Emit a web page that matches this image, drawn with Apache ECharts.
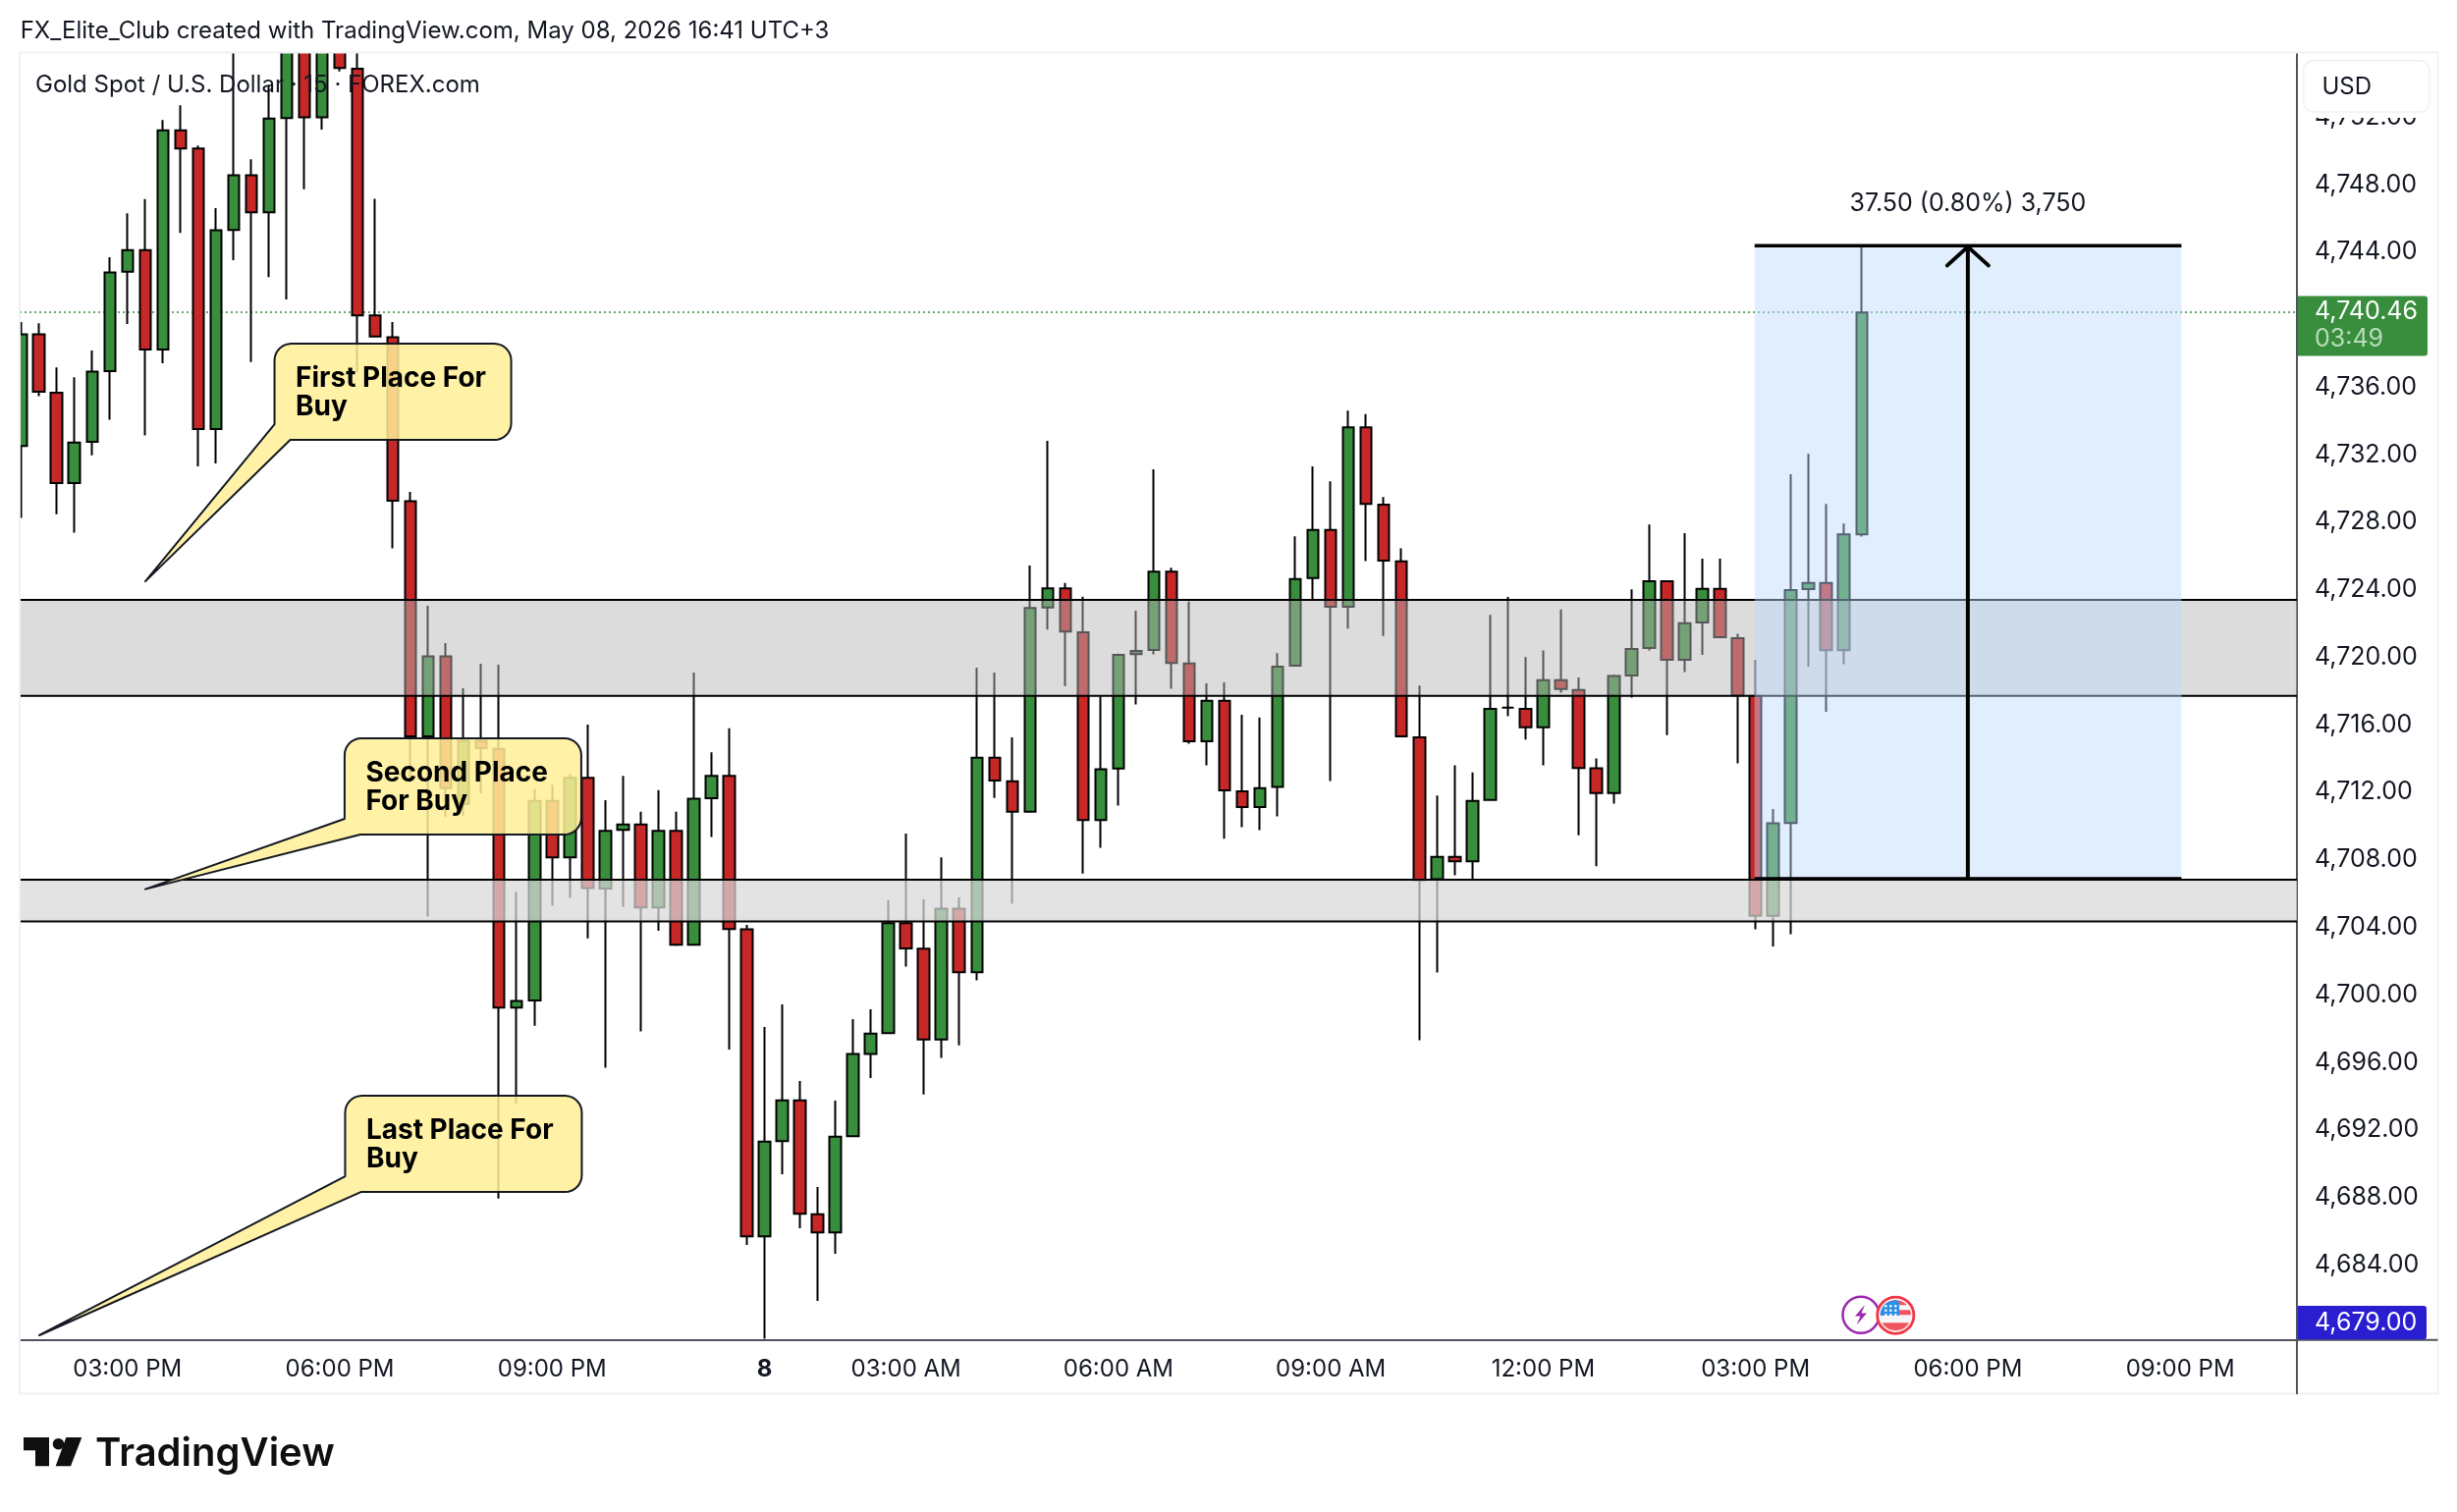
<!DOCTYPE html>
<html>
<head>
<meta charset="utf-8">
<style>html,body{margin:0;padding:0;background:#fff}#c{width:2502px;height:1540px}</style>
<script src="https://cdn.jsdelivr.net/npm/echarts@6/dist/echarts.min.js"></script>
</head>
<body>
<div id="c"></div>
<script>
// ---- data (bar number 0 = 03:00 PM, 15-minute bars) ----
const firstBar = -6;
const open = [
4732.52,4739.13,4735.68,4730.32,4732.77,4736.96,
4742.84,4744.13,4738.23,4751.22,4750.14,4733.52,
4745.32,4748.56,4746.36,4751.95,4757,4752.0,
4757,4754.87,4740.25,4738.96,4729.24,4715.32,
4720.05,4711.3,4715.05,4714.57,4699.24,4699.67,
4711.49,4708.15,4712.86,4706.3,4709.78,4710.1,
4705.18,4709.72,4702.97,4711.65,4712.98,4703.88,
4685.69,4691.33,4693.75,4687.0,4685.92,4691.62,
4696.49,4697.73,4704.25,4702.73,4697.36,4705.1,
4701.34,4714.05,4712.66,4710.85,4722.95,4724.09,
4721.48,4710.36,4713.41,4720.19,4720.43,4725.08,
4719.63,4715.02,4717.42,4712.05,4711.12,4712.32,
4719.5,4724.69,4727.55,4723.0,4733.63,4729.04,
4725.68,4715.26,4706.85,4708.18,4707.91,4711.55,
4717.02,4716.94,4715.85,4718.65,4718.06,4713.42,
4711.95,4718.92,4720.55,4724.5,4719.85,4722.07,
4724.05,4721.13,4717.72,4704.68,4710.18,4724.04,
4724.4,4720.42,4727.28];
const close = [
4739.13,4735.74,4730.32,4732.73,4736.92,4742.80,
4744.13,4738.23,4751.22,4750.14,4733.52,4745.30,
4748.56,4746.36,4751.92,4757,4752.0,4757,
4754.92,4740.25,4739.0,4729.28,4715.32,4720.05,
4712.24,4715.05,4714.61,4699.24,4699.63,4711.49,
4708.15,4712.86,4706.32,4709.72,4710.1,4705.18,
4709.72,4702.97,4711.62,4712.98,4703.9,4685.69,
4691.31,4693.75,4687.03,4685.92,4691.6,4696.49,
4697.71,4704.25,4702.75,4697.36,4705.1,4701.34,
4714.05,4712.69,4710.85,4722.92,4724.09,4721.53,
4710.36,4713.36,4720.14,4720.38,4725.08,4719.66,
4715.02,4717.42,4712.11,4711.12,4712.24,4719.45,
4724.63,4727.55,4723.0,4733.63,4729.09,4725.73,
4715.31,4706.79,4708.18,4707.91,4711.49,4716.94,
4717.02,4715.85,4718.65,4718.12,4713.44,4711.95,
4718.89,4720.49,4724.5,4719.85,4722.02,4724.05,
4721.19,4717.74,4704.68,4710.16,4723.98,4724.4,
4720.42,4727.28,4740.43];
const high = [
4739.87,4739.79,4737.17,4736.59,4738.17,4743.70,
4746.31,4747.15,4751.84,4752.71,4750.32,4746.61,
4758,4749.51,4753.92,4759,4759,4759,
4759,4758,4747.17,4739.87,4729.8,4723.05,
4720.84,4718.16,4719.62,4719.56,4706.11,4712.2,
4712.45,4713.07,4716.02,4711.54,4712.98,4710.85,
4712.13,4710.85,4719.1,4714.37,4715.79,4704.15,
4698.1,4699.43,4694.9,4688.61,4693.73,4698.56,
4699.14,4705.61,4709.56,4705.66,4708.15,4705.77,
4719.39,4719.1,4715.25,4725.43,4732.83,4724.41,
4723.59,4717.68,4720.22,4722.76,4731.14,4725.3,
4723.3,4718.46,4718.52,4716.59,4716.43,4720.25,
4727.17,4731.31,4730.43,4734.62,4734.41,4729.5,
4726.45,4718.33,4711.81,4713.6,4713.18,4722.52,
4723.57,4720.01,4720.41,4722.84,4718.81,4714.0,
4718.97,4724.02,4727.87,4724.5,4727.36,4725.84,
4725.84,4721.4,4719.85,4711.01,4730.84,4732.06,
4729.09,4727.93,4744.38];
const low = [
4728.26,4735.47,4728.47,4727.39,4731.96,4734.08,
4739.75,4733.14,4737.42,4745.15,4731.31,4731.48,
4743.53,4737.5,4742.53,4741.2,4747.73,4751.26,
4754.71,4736.88,4739.0,4726.45,4712.6,4704.64,
4710.54,4710.62,4711.93,4687.93,4693.54,4698.17,
4705.28,4705.74,4703.35,4695.68,4705.21,4697.84,
4703.79,4702.89,4702.97,4709.35,4696.76,4685.18,
4679.62,4689.37,4686.17,4681.87,4684.66,4691.62,
4695.07,4697.73,4701.68,4694.1,4696.26,4697.01,
4700.86,4711.67,4705.4,4710.85,4721.64,4718.3,
4707.19,4708.71,4711.22,4717.2,4720.17,4718.14,
4714.88,4713.6,4709.25,4709.94,4709.76,4710.58,
4719.5,4723.4,4712.67,4721.7,4725.7,4721.27,
4715.31,4697.31,4701.32,4707.09,4706.85,4711.55,
4716.51,4715.13,4713.6,4717.9,4709.46,4707.62,
4711.33,4717.61,4720.41,4715.39,4719.13,4720.15,
4721.19,4713.71,4703.88,4702.87,4703.59,4719.44,
4716.77,4719.59,4727.16];

const xTickBars = [0,12,24,36,44,56,68,80,92,104,116];
const xTickLabels = ['03:00 PM','06:00 PM','09:00 PM','8','03:00 AM','06:00 AM','09:00 AM','12:00 PM','03:00 PM','06:00 PM','09:00 PM'];
const yTicks = [4684,4688,4692,4696,4700,4704,4708,4712,4716,4720,4724,4728,4732,4736,4740,4744,4748,4752];

const zoneTop = [4723.4, 4706.82];
const zoneBottom = [4717.72, 4704.35];
const lastPrice = 4740.46;
const measureBars = [91.95, 116.07];
const measurePrices = [4706.88, 4744.38];
const measureArrowBar = 104;
const measureLabel = '37.50 (0.80%) 3,750';

const calloutText = [['First Place For','Buy'],['Second Place','For Buy'],['Last Place For','Buy']];
const calloutTipBar = [1.01, 1.01, -4.98];
const calloutTipPrice = [4724.5, 4706.26, 4679.83];
const calloutBoxBar = [8.31, 12.27, 12.30];
const calloutBoxPrice = [4738.58, 4715.2, 4694.02];

// ---- frame geometry ----
const plot = {l:20, r:2339, t:54, b:1364.7};
const barPx = 18.02, pricePx = 17.19;
const bar0X = 129.8, y4744 = 256.9;
const xMin = firstBar + (plot.l - (bar0X + firstBar*barPx))/barPx;
const xMax = (plot.r - bar0X)/barPx;
const yMax = 4744 + (y4744 - plot.t)/pricePx;
const yMin = 4744 - (plot.b - y4744)/pricePx;

const FONT = 'Inter, "Noto Sans", sans-serif';
const INK = '#131722';
const AXIS = '#50535e';
const GREEN = '#388e3c', RED = '#c62828';

const candleData = open.map((o,k)=>[firstBar+k, o, close[k], low[k], high[k]]);

function roundedCallout(tip, x0, y0, w, h, r){
  const pts = [tip, [x0, y0+h-16]];
  const arc = (cx,cy,a0)=>{for(let s=0;s<=8;s++){const a=a0+s/8*Math.PI/2;pts.push([cx+r*Math.cos(a),cy+r*Math.sin(a)]);}};
  arc(x0+r,y0+r,Math.PI);
  arc(x0+w-r,y0+r,-Math.PI/2);
  arc(x0+w-r,y0+h-r,0);
  pts.push([x0+16,y0+h]);
  return pts;
}

// US flag clipped to a circle
function discBand(cx,cy,r,x0,x1,y0,y1,fill,z){
  const L=[],R=[];
  for(let s=0;s<=8;s++){
    const y=y0+(y1-y0)*s/8;
    const half=Math.sqrt(Math.max(0,r*r-y*y));
    L.push([cx+Math.max(x0,-half),cy+y]);
    R.push([cx+Math.min(x1,half),cy+y]);
  }
  return {type:'polygon',z,silent:true,shape:{points:L.concat(R.reverse())},style:{fill}};
}
const flagX=1930.3, flagY=1339.7, flagR=15.6;
const flagStars=[];
[-9.5,-5,-0.5].forEach(sy=>[-10,-5,0].forEach(sx=>flagStars.push({type:'circle',z:62,silent:true,shape:{cx:flagX+sx,cy:flagY+sy,r:1.3},style:{fill:'#fff'}})));

function ptext(text,x,y,opt){
  return {type:'text',z:70,silent:true,x,y,style:Object.assign({text,fontFamily:FONT,fontSize:24,fill:INK,textVerticalAlign:'middle',verticalAlign:'middle'},opt||{})};
}

const option = {
  animation:false,
  backgroundColor:'#fff',
  grid:{left:plot.l,top:plot.t,width:plot.r-plot.l,height:plot.b-plot.t,containLabel:false},
  xAxis:{type:'value',min:xMin,max:xMax,
    axisLine:{show:true,onZero:false,lineStyle:{color:AXIS,width:2}},axisTick:{show:false},splitLine:{show:false},
    axisLabel:{customValues:xTickBars,margin:18,fontFamily:FONT,fontSize:24,color:INK,hideOverlap:false,showMinLabel:true,showMaxLabel:true,
      formatter:v=>{const s=xTickLabels[xTickBars.indexOf(v)];return s==='8'?'{b|8}':s;},
      rich:{b:{fontFamily:FONT,fontSize:24,fontWeight:700,color:INK}}}},
  yAxis:{type:'value',position:'right',min:yMin,max:yMax,scale:true,
    axisLine:{show:true,onZero:false,lineStyle:{color:AXIS,width:2}},axisTick:{show:false},splitLine:{show:false},
    axisLabel:{customValues:yTicks,margin:18,fontFamily:FONT,fontSize:25,color:INK,align:'left',hideOverlap:false,padding:[2,0,0,0],
      formatter:v=>v.toLocaleString('en-US',{minimumFractionDigits:2,maximumFractionDigits:2})}},
  series:[
    {type:'candlestick',name:'XAUUSD',z:2,barWidth:12,clip:true,silent:true,data:candleData,
      itemStyle:{color:GREEN,color0:RED,borderColor:'#000',borderColor0:'#000',borderColorDoji:'#000',borderWidth:2},
      markLine:{silent:true,symbol:'none',label:{show:false},animation:false,z:2,
        lineStyle:{color:GREEN,width:1.5,type:[2,3]},data:[{yAxis:lastPrice}]}},
    {type:'custom',name:'zones',z:3,silent:true,clip:true,data:zoneTop.map((t,k)=>[k,t]),encode:{x:0,y:1},
      renderItem:(p,api)=>{
        const k=p.dataIndex;
        const a=api.coord([xMin,zoneTop[k]]), b=api.coord([xMax,zoneBottom[k]]);
        const fill=k===0?'rgba(182,182,182,0.48)':'rgba(216,216,216,0.73)';
        return {type:'group',children:[
          {type:'rect',shape:{x:a[0],y:a[1],width:b[0]-a[0],height:b[1]-a[1]},style:{fill}},
          {type:'line',shape:{x1:a[0],y1:a[1],x2:b[0],y2:a[1]},style:{stroke:'#000',lineWidth:2}},
          {type:'line',shape:{x1:a[0],y1:b[1],x2:b[0],y2:b[1]},style:{stroke:'#000',lineWidth:2}}
        ]};
      }},
    {type:'custom',name:'measure',z:4,silent:true,clip:false,data:[[measureArrowBar,measurePrices[1]]],encode:{x:0,y:1},
      renderItem:(p,api)=>{
        const a=api.coord([measureBars[0],measurePrices[1]]), b=api.coord([measureBars[1],measurePrices[0]]);
        const ax=api.coord([measureArrowBar,measurePrices[1]])[0];
        return {type:'group',children:[
          {type:'rect',shape:{x:a[0],y:a[1],width:b[0]-a[0],height:b[1]-a[1]},style:{fill:'rgba(188,218,251,0.45)'}},
          {type:'line',shape:{x1:a[0],y1:a[1],x2:b[0],y2:a[1]},style:{stroke:'#000',lineWidth:3.5}},
          {type:'line',shape:{x1:a[0],y1:b[1],x2:b[0],y2:b[1]},style:{stroke:'#000',lineWidth:3.5}},
          {type:'line',shape:{x1:ax,y1:a[1],x2:ax,y2:b[1]},style:{stroke:'#000',lineWidth:4}},
          {type:'polyline',shape:{points:[[ax-21,a[1]+20],[ax,a[1]+1],[ax+21,a[1]+20]]},style:{stroke:'#000',fill:'none',lineWidth:4,lineCap:'round'}},
          {type:'text',style:{x:ax,y:a[1]-43,text:measureLabel,fontFamily:FONT,fontSize:25,fill:INK,textAlign:'center',textVerticalAlign:'middle',verticalAlign:'middle',align:'center'}}
        ]};
      }},
    {type:'custom',name:'callouts',z:5,silent:true,clip:false,data:calloutTipBar.map((b,k)=>[b,calloutTipPrice[k]]),encode:{x:0,y:1},
      renderItem:(p,api)=>{
        const k=p.dataIndex;
        const tip=api.coord([calloutTipBar[k],calloutTipPrice[k]]);
        const tl=api.coord([calloutBoxBar[k],calloutBoxPrice[k]]);
        const kids=[{type:'polygon',shape:{points:roundedCallout(tip,tl[0],tl[1],241,98,17)},
          style:{fill:'rgba(255,240,152,0.85)',stroke:'#131722',lineWidth:2,lineJoin:'round'}}];
        calloutText[k].forEach((t,j)=>kids.push({type:'text',style:{x:tl[0]+21.5,y:tl[1]+36+j*28.5,text:t,fontFamily:FONT,fontWeight:700,fontSize:28,fill:'#000',textVerticalAlign:'middle',verticalAlign:'middle'}}));
        return {type:'group',children:kids};
      }}
  ],
  graphic:{elements:[
    // white margins outside the plot hide the parts of candles that leave it
    {type:'rect',z:30,silent:true,shape:{x:0,y:0,width:2340,height:53},style:{fill:'#fff'}},
    {type:'rect',z:30,silent:true,shape:{x:0,y:0,width:19.5,height:1420},style:{fill:'#fff'}},
    // frame
    {type:'rect',z:31,silent:true,shape:{x:20,y:53.5,width:2462.5,height:1366},style:{fill:'none',stroke:'#f1f1f3',lineWidth:2}},
    {type:'line',z:60,silent:true,shape:{x1:plot.r,y1:plot.b,x2:plot.r,y2:1420},style:{stroke:AXIS,lineWidth:2}},
    {type:'line',z:60,silent:true,shape:{x1:plot.r,y1:plot.b,x2:2482.5,y2:plot.b},style:{stroke:AXIS,lineWidth:2}},
    // header and legend
    ptext('FX_Elite_Club created with TradingView.com, May 08, 2026 16:41 UTC+3',20.7,32),
    ptext('Gold Spot / U.S. Dollar · 15 · FOREX.com',36,86.5),
    // USD button masks the top tick label
    {type:'rect',z:59,silent:true,shape:{x:2341,y:55,width:139,height:65},style:{fill:'#fff'}},
    {type:'rect',z:60,silent:true,shape:{x:2345.7,y:61.7,width:128.3,height:52.3,r:10},style:{fill:'#fff',stroke:'#f1f1f3',lineWidth:1.5}},
    ptext('USD',2364.5,88.5),
    // last price tag
    {type:'rect',z:60,silent:true,shape:{x:2340,y:301.4,width:132,height:61.2,r:[0,3,3,0]},style:{fill:GREEN}},
    ptext('4,740.46',2357,317.5,{fill:'#fff',fontSize:25}),
    ptext('03:49',2357,345,{fill:'#b9dcbb',fontSize:25}),
    // crosshair price tag
    {type:'rect',z:60,silent:true,shape:{x:2340,y:1330,width:131,height:34.2,r:[0,3,3,0]},style:{fill:'#2a1ed1'}},
    ptext('4,679.00',2357,1347,{fill:'#fff',fontSize:25}),
    // event icons
    {type:'circle',z:60,silent:true,shape:{cx:1895,cy:1339.3,r:18.5},style:{fill:'#fff',stroke:'#9c27b0',lineWidth:2.5}},
    {type:'polygon',z:61,silent:true,shape:{points:[[1899,1329],[1889,1340.5],[1894.5,1340.5],[1890.5,1349.5],[1901,1337.5],[1895.5,1337.5]]},style:{fill:'#9c27b0'}},
    {type:'circle',z:61,silent:true,shape:{cx:flagX,cy:flagY,r:18.6},style:{fill:'#f5f6fa',stroke:'#f23645',lineWidth:2.8}},
    discBand(flagX,flagY,flagR,-20,20,-15.6,-10.5,'#f0555f',61.5),
    discBand(flagX,flagY,flagR,-20,20,-5.5,-0.5,'#f0555f',61.5),
    discBand(flagX,flagY,flagR,-20,20,7.5,15.6,'#f0555f',61.5),
    discBand(flagX,flagY,flagR,-20,3.7,-15.6,0.3,'#2e8fe8',61.7),
    ...flagStars,
    // TradingView logo
    {type:'polygon',z:60,silent:true,shape:{points:[[24,1464],[50,1464],[50,1493.3],[36,1493.3],[36,1477.3],[24,1477.3]]},style:{fill:'#0f0f0f'}},
    {type:'circle',z:60,silent:true,shape:{cx:59.5,cy:1470.7,r:5.8},style:{fill:'#0f0f0f'}},
    {type:'polygon',z:60,silent:true,shape:{points:[[67.3,1464],[83.3,1464],[72,1493.3],[56.7,1493.3]]},style:{fill:'#0f0f0f'}},
    ptext('TradingView',97,1481,{fontSize:40,fontWeight:600,fill:'#0f0f0f'})
  ]}
};
const chart = echarts.init(document.getElementById('c'),null,{renderer:'canvas',width:2502,height:1540});
chart.setOption(option);
</script>
</body>
</html>
